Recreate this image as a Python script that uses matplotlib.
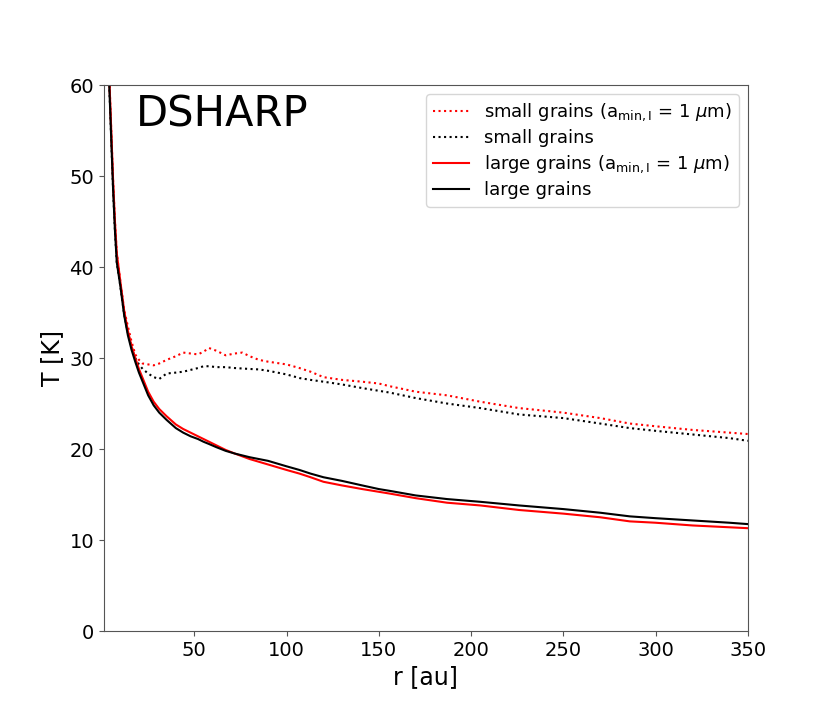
import matplotlib.pyplot as plt

# radius grid [au]
r = [3, 4, 5, 6, 7, 8, 10, 12, 14, 16, 18, 20, 22, 25, 28, 31, 35, 40, 44, 48,
     52, 55, 58, 62, 67, 72, 76, 80, 85, 90, 100, 107, 113, 120, 130, 141, 150,
     156, 170, 187, 205, 226, 250, 270, 286, 300, 320, 340, 350]

# small grains, a_min,I = 1 micron (red dotted)
T_small_amin = [69, 60.5, 55, 49.5, 45, 41.5, 38.3, 35.3, 33.5, 31.8, 30.4, 29.8,
                29.4, 29.3, 29.2, 29.4, 29.8, 30.2, 30.6, 30.5, 30.4, 30.7, 31.1,
                30.8, 30.3, 30.5, 30.6, 30.2, 29.8, 29.6, 29.3, 28.9, 28.5, 27.9,
                27.6, 27.4, 27.2, 26.9, 26.3, 25.9, 25.2, 24.5, 24.0, 23.4, 22.8,
                22.5, 22.1, 21.8, 21.65]

# small grains (black dotted)
T_small = [68, 59.5, 54, 48.5, 44, 40.5, 37.8, 34.8, 32.8, 31.2, 30.0, 29.3, 28.8,
           28.3, 27.9, 27.7, 28.3, 28.4, 28.5, 28.7, 28.9, 29.1, 29.1, 29.0, 29.0,
           28.9, 28.85, 28.8, 28.75, 28.6, 28.2, 27.8, 27.6, 27.4, 27.1, 26.7,
           26.4, 26.2, 25.6, 25.0, 24.5, 23.8, 23.4, 22.8, 22.3, 22.0, 21.6, 21.2,
           20.9]

# large grains, a_min,I = 1 micron (red solid)
T_large_amin = [69, 60.5, 55, 49.5, 45, 41.5, 38.3, 35.2, 33.0, 31.3, 30.0, 28.8,
                27.8, 26.3, 25.2, 24.4, 23.6, 22.7, 22.2, 21.8, 21.4, 21.1, 20.8,
                20.4, 19.9, 19.5, 19.2, 18.9, 18.6, 18.3, 17.7, 17.3, 16.9, 16.4,
                16.0, 15.6, 15.3, 15.1, 14.6, 14.1, 13.8, 13.3, 12.9, 12.5, 12.05,
                11.9, 11.6, 11.4, 11.3]

# large grains (black solid)
T_large = [68, 59.5, 54, 48.5, 44, 40.5, 37.8, 34.7, 32.5, 30.9, 29.6, 28.4, 27.4,
           25.9, 24.8, 24.0, 23.2, 22.3, 21.8, 21.4, 21.1, 20.8, 20.55, 20.2, 19.8,
           19.5, 19.3, 19.1, 18.9, 18.7, 18.1, 17.7, 17.3, 16.9, 16.5, 16.0, 15.6,
           15.4, 14.9, 14.5, 14.2, 13.8, 13.4, 13.0, 12.6, 12.4, 12.15, 11.9, 11.75]

lab_amin = r'(a$_{\rm min,I}$ = 1 $\mu$m)'

fig, ax = plt.subplots(figsize=(8.31, 7.09), dpi=100)

ax.plot(r, T_small_amin, ':', color='red', lw=1.5, label='small grains ' + lab_amin)
ax.plot(r, T_small, ':', color='black', lw=1.5, label='small grains')
ax.plot(r, T_large_amin, '-', color='red', lw=1.5, label='large grains ' + lab_amin)
ax.plot(r, T_large, '-', color='black', lw=1.5, label='large grains')

ax.set_xlim(1, 350)
ax.set_ylim(0, 60)
ax.set_xticks([50, 100, 150, 200, 250, 300, 350])
ax.set_yticks([0, 10, 20, 30, 40, 50, 60])
ax.tick_params(labelsize=14, color='#555555')
for sp in ax.spines.values():
    sp.set_color('#555555')

ax.set_xlabel('r [au]', fontsize=17)
ax.set_ylabel('T [K]', fontsize=17)

ax.text(0.05, 0.925, 'DSHARP', transform=ax.transAxes, fontsize=30, va='baseline')
ax.legend(loc='upper right', fontsize=13, labelspacing=0.35)

plt.savefig('out.png')
